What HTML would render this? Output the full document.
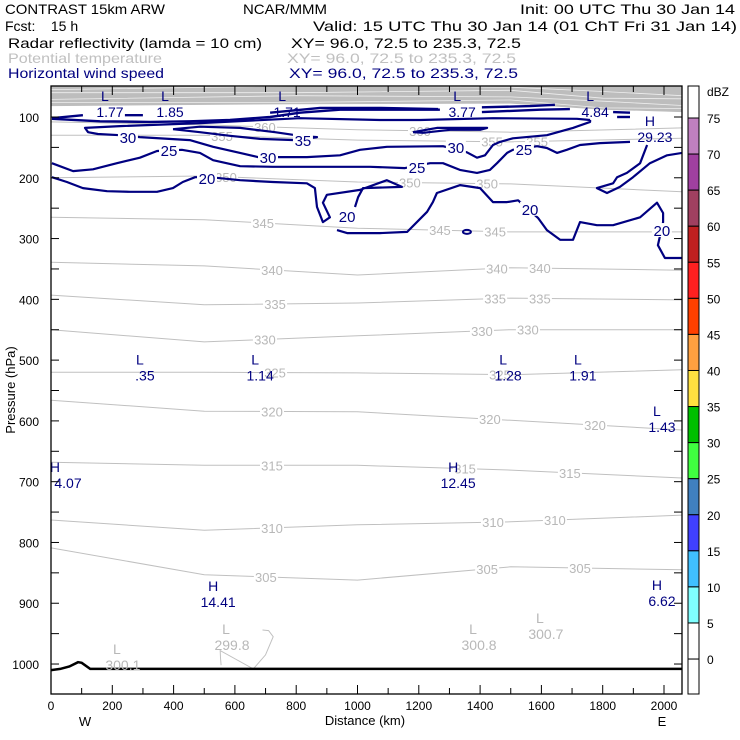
<!DOCTYPE html>
<html><head><meta charset="utf-8"><style>
html,body{margin:0;padding:0;background:#fff}
svg{display:block;font-family:"Liberation Sans",sans-serif}
</style></head><body>
<svg id="chart" width="740" height="740" viewBox="0 0 740 740">
<g font-size="14" lengthAdjust="spacingAndGlyphs">
<text x="5" y="14" textLength="160" lengthAdjust="spacingAndGlyphs">CONTRAST 15km ARW</text>
<text x="243" y="14" textLength="84" lengthAdjust="spacingAndGlyphs">NCAR/MMM</text>
<text x="520" y="14" textLength="215" lengthAdjust="spacingAndGlyphs">Init: 00 UTC Thu 30 Jan 14</text>
<text x="5" y="31" xml:space="preserve">Fcst:    15 h</text>
<text x="313" y="31" textLength="424" lengthAdjust="spacingAndGlyphs">Valid: 15 UTC Thu 30 Jan 14 (01 ChT Fri 31 Jan 14)</text>
<text x="8" y="48" textLength="254" lengthAdjust="spacingAndGlyphs">Radar reflectivity (lamda = 10 cm)</text>
<text x="291" y="48" textLength="230" lengthAdjust="spacingAndGlyphs">XY=  96.0, 72.5 to 235.3, 72.5</text>
<text x="8" y="63" textLength="154" lengthAdjust="spacingAndGlyphs" fill="#c0c0c0">Potential temperature</text>
<text x="287" y="63" textLength="229" lengthAdjust="spacingAndGlyphs" fill="#c0c0c0">XY=  96.0, 72.5 to 235.3, 72.5</text>
<text x="8" y="78" textLength="156" lengthAdjust="spacingAndGlyphs" fill="#000080">Horizontal wind speed</text>
<text x="289" y="78" textLength="229" lengthAdjust="spacingAndGlyphs" fill="#000080">XY=  96.0, 72.5 to 235.3, 72.5</text>
</g>
<g id="plot"></g>
<g id="cbar"></g>
<text x="365" y="725" text-anchor="middle" font-size="13">Distance (km)</text>
<text x="85" y="726" text-anchor="middle" font-size="13">W</text>
<text x="662" y="726" text-anchor="middle" font-size="13">E</text>
<text transform="translate(15,390) rotate(-90)" text-anchor="middle" font-size="13">Pressure (hPa)</text>
</svg>
<script>
// ---- data ----
const xTicks = [0,200,400,600,800,1000,1200,1400,1600,1800,2000];
const yTicks = [100,200,300,400,500,600,700,800,900,1000];
const thetaKm = [0,500,1000,1500,2060];
const thetaLevels = [360,355,350,345,340,335,330,325,320,315,310,305];
const thetaP = [
 [108,113,121,125,118],
 [130,130,138,141,135],
 [200,197,207,210,223],
 [265,269,283,289,289],
 [339,345,360,348,352],
 [393,409,406,398,401],
 [450,470,460,450,450],
 [520,520,521,524,516],
 [566,584,585,599,615],
 [668,673,673,681,694],
 [763,780,771,766,755],
 [809,853,862,840,845]
];
const thetaLabelKm = [
 [698,1204],[558,1439,1586],[571,1171,1423],[692,1269,1449],[721,1455,1595],[731,1449,1595],
 [698,1406,1556],[731,1465],[721,1432,1775],[721,1351,1693],[721,1442,1644],[701,1423,1726]
];
const bandKm = [0,800,1500,1800,2060];
const bandP = [82,79,78,88,92];
const ground = [[0,1010],[30,1008],[60,1004],[88,997],[100,998],[128,1008],[2060,1008]];
const closedTheta = [[555,1002],[553,990],[552,978],[660,1008],[700,985],[725,955],[710,945],[690,944]];
const wind30 = [[1759,105],[1716,103],[1442,102],[1204,105],[1073,105],[812,102],[486,110],[225,115],[111,118],[121,125],[153,128],[225,130],[290,133],[453,138],[529,149],[617,159],[675,166],[747,166],[835,166],[943,163],[1008,154],[1096,149],[1279,148],[1357,158],[1390,167],[1416,163],[1442,146],[1465,141],[1507,135],[1618,130],[1703,118],[1759,108],[1759,105]];
const wind25a = [[3,176],[72,189],[137,186],[215,176],[290,167],[346,156],[427,154],[486,159],[529,171],[617,181],[724,182],[1041,182],[1155,184],[1237,176],[1279,176],[1334,187],[1390,192],[1432,187],[1455,176],[1488,159],[1507,154],[1586,148],[1618,151],[1651,159],[1683,154],[1726,146],[1791,143],[1889,141]];
const wind25b = [[1945,146],[1922,176],[1879,192],[1847,199],[1834,209],[1781,217],[1814,225],[1856,215],[1899,199],[1954,176],[2010,163],[2059,159]];
const wind20a = [[3,199],[52,207],[104,217],[183,222],[258,223],[346,223],[398,217],[430,207],[470,199],[519,199],[617,204],[724,207],[835,209],[861,217],[868,248],[887,273],[910,265],[887,241],[900,228],[1008,220],[1096,204],[1145,215],[1018,217],[1002,232],[992,248]];
const wind20b = [[933,286],[966,291],[1073,291],[1162,289],[1227,256],[1246,240],[1259,225],[1335,212],[1400,217],[1442,240],[1488,240],[1524,237],[1589,266],[1618,286],[1661,302],[1703,302],[1726,273],[1781,278],[1834,278],[1922,265],[1977,241],[1997,258],[1997,273],[1980,311],[2003,332],[2059,332]];
const jet35a = [[398,120],[486,116],[617,118],[731,125],[812,131],[868,133],[796,138],[682,136],[584,131],[486,125],[398,120]];
const jet35b = [[1181,125],[1259,118],[1423,118],[1400,121],[1302,121],[1214,126],[1181,125]];
const jetLines = [
 [[3,103],[160,107],[323,108],[453,107],[584,105],[715,100],[812,93],[943,88],[1139,88],[1269,88]],
 [[715,93],[878,85],[1073,85],[1263,87]],
 [[1406,92],[1595,88],[1693,87]],
 [[1406,84],[1563,82],[1644,80]],
 [[1834,92],[1889,93]],
 [[1847,100],[1889,100]],
 [[3,102],[104,97]],
 [[241,97],[300,97]]
];
const windLabels = [["30",251,133],["25",385,154],["30",708,166],["35",822,138],["20",509,200],["20",966,263],["30",1321,149],["25",1194,182],["25",1543,153],["20",1563,251],["20",1993,286]];
const windExtLetter = ["L","L","L","L","L","H","L","L","L","L","L","H","H","H","H"];
const windExtValue = ["1.77","1.85","1.71","3.77","4.84","29.23",".35","1.14","1.28","1.91","1.43","4.07","12.45","14.41","6.62"];
const windExtKm = [176,372,754,1325,1759,1954,290,666,1475,1719,1977,13,1312,529,1977];
const windExtP = [64,64,64,64,64,105,497,497,497,497,582,674,674,870,868];
const thetaExtValue = ["300.1","299.8","300.8","300.7"];
const thetaExtKm = [215,571,1377,1595];
const thetaExtP = [974,941,941,923];
const cbarLabels = ["75","70","65","60","55","50","45","40","35","30","25","20","15","10","5","0"];
const cbarColors = ["#c080c0","#a040a0","#a04060","#c02020","#ff2020","#ff4000","#ffa040","#ffe040","#00c000","#40ff40","#4080c0","#4040ff","#40c0ff","#80ffff","#ffffff"];

// ---- axes ----
const X0=51, X1=682, Y0=86, Y1=694;
function X(km){return 51+km*0.3065;}
function Y(p){return 117+(p-100)*0.6078;}
const NS="http://www.w3.org/2000/svg";
const plot=document.getElementById('plot');
function mk(tag,attrs,parent){const e=document.createElementNS(NS,tag);for(const k in attrs)e.setAttribute(k,attrs[k]);(parent||plot).appendChild(e);return e;}
function pts(arr){return arr.map(d=>X(d[0]).toFixed(1)+','+Y(d[1]).toFixed(1)).join(' ');}
function interp(xs,ys,x){for(let i=0;i<xs.length-1;i++){if(x<=xs[i+1]){const t=(x-xs[i])/(xs[i+1]-xs[i]);return ys[i]+t*(ys[i+1]-ys[i]);}}return ys[ys.length-1];}

const defs=mk('defs',{});
const cp=mk('clipPath',{id:'clip'},defs);
mk('rect',{x:X0,y:Y0,width:X1-X0,height:Y1-Y0},cp);
const g=mk('g',{'clip-path':'url(#clip)'});



// gray band
const band=mk('polygon',{points:pts(bandKm.map((k,i)=>[k,bandP[i]]).concat([[2060,40],[0,40]])),fill:'#bdbdbd'},g);


for(let i=0;i<4;i++){
 const l=mk('polyline',{points:pts(bandKm.map((k,j)=>[k,bandP[j]-6-i*8+((j+i)%2)*3])),fill:'none',stroke:'#eeeeee','stroke-width':0.8},g);
 
 
}

thetaLevels.forEach((lev,i)=>{
 const line=mk('polyline',{points:pts(thetaKm.map((k,j)=>[k,thetaP[i][j]])),fill:'none',stroke:'#c0c0c0','stroke-width':1},g);
 
 
});
const ct=mk('polyline',{points:pts(closedTheta),fill:'none',stroke:'#c0c0c0','stroke-width':1},g);


thetaLevels.forEach((lev,i)=>{
 thetaLabelKm[i].forEach(k=>{
  const y=Y(interp(thetaKm,thetaP[i],k));
  const bg=mk('rect',{x:X(k)-12,y:y-6,width:24,height:12,fill:'#fff'},g);
  
  
  const t=mk('text',{x:X(k),y:y+5,'text-anchor':'middle','font-size':13,fill:'#b8b8b8'},g);
  t.textContent=lev;
  
  
 });
});

const gr=mk('polyline',{points:pts(ground),fill:'none',stroke:'#000','stroke-width':2.5},g);



const windSets=[["wind-contour-30",wind30],["wind-contour-25-west",wind25a],["wind-contour-25-east",wind25b],["wind-contour-20-west",wind20a],["wind-contour-20-east",wind20b],["wind-contour-35-west",jet35a],["wind-contour-35-east",jet35b]];
windSets.forEach(([n,d])=>{
 const l=mk('polyline',{points:pts(d),fill:'none',stroke:'#000080','stroke-width':2.2,'stroke-linejoin':'round'},g);
 
 
});
jetLines.forEach(d=>{
 const l=mk('polyline',{points:pts(d),fill:'none',stroke:'#000080','stroke-width':2.4},g);
 
 
});
const tiny=mk('ellipse',{cx:X(1357),cy:Y(289),rx:4,ry:2,fill:'none',stroke:'#000080','stroke-width':2},g);


windLabels.forEach(([s,k,p])=>{
 const bg=mk('rect',{x:X(k)-10,y:Y(p)-7,width:20,height:14,fill:'#fff'},g);
 
 
 const t=mk('text',{x:X(k),y:Y(p)+6,'text-anchor':'middle','font-size':15,fill:'#000080'},g);
 t.textContent=s;
 
 
});
// extrema (drawn unclipped)
windExtLetter.forEach((L,i)=>{
 const x=X(windExtKm[i]), y=Y(windExtP[i]);
 const a=mk('text',{x:x,y:y+6,'text-anchor':'middle','font-size':14,fill:'#000080'});
 a.textContent=L;
 
 
 const b=mk('text',{x:Math.max(x+5,68),y:y+22,'text-anchor':'middle','font-size':14,fill:'#000080'});
 b.textContent=windExtValue[i];
 
 
});
thetaExtValue.forEach((v,i)=>{
 const x=X(thetaExtKm[i]), y=Y(thetaExtP[i]);
 const a=mk('text',{x:x,y:y+6,'text-anchor':'middle','font-size':14,fill:'#b8b8b8'},g);
 a.textContent='L';
 
 
 const b=mk('text',{x:x+6,y:y+22,'text-anchor':'middle','font-size':14,fill:'#b8b8b8'},g);
 b.textContent=v;
 
 
});

const fr=mk('rect',{x:X0,y:Y0,width:X1-X0,height:Y1-Y0,fill:'none',stroke:'#000','stroke-width':1.3});


for(let k=0;k<=2060;k+=100){
 const len=(k%200===0)?9:6;
 const t1=mk('line',{x1:X(k),x2:X(k),y1:Y1,y2:Y1-len,stroke:'#000'});
 
 
 const t2=mk('line',{x1:X(k),x2:X(k),y1:Y0,y2:Y0+len,stroke:'#000'});
 
 
}
xTicks.forEach(k=>{
 const t=mk('text',{x:X(k),y:710,'text-anchor':'middle','font-size':12});
 t.textContent=k;
 
 
});
for(let p=100;p<=1000;p+=50){
 const t1=mk('line',{x1:X0,x2:X0+8,y1:Y(p),y2:Y(p),stroke:'#000'});
 
 
 const t2=mk('line',{x1:X1,x2:X1-8,y1:Y(p),y2:Y(p),stroke:'#000'});
 
 
}
yTicks.forEach(p=>{
 const t=mk('text',{x:39,y:Y(p)+5,'text-anchor':'end','font-size':12});
 t.textContent=p;
 
 
});

const cb=document.getElementById('cbar');
const cbX=688,cbW=11,step=36.07,top0=118;
const r0=mk('rect',{x:cbX,y:86,width:cbW,height:top0-86,fill:'#fff',stroke:'#000'},cb);


cbarColors.forEach((c,i)=>{
 const r=mk('rect',{x:cbX,y:top0+i*step,width:cbW,height:step,fill:c,stroke:'#000'},cb);
 
 
});
const rl=mk('rect',{x:cbX,y:top0+15*step,width:cbW,height:694-(top0+15*step),fill:'#fff',stroke:'#000'},cb);


const u=mk('text',{x:707,y:96,'font-size':12},cb);
u.textContent='dBZ';


cbarLabels.forEach((s,i)=>{
 const t=mk('text',{x:707,y:top0+i*step+5,'font-size':12},cb);
 t.textContent=s;
 
 
});
</script>
</body></html>
